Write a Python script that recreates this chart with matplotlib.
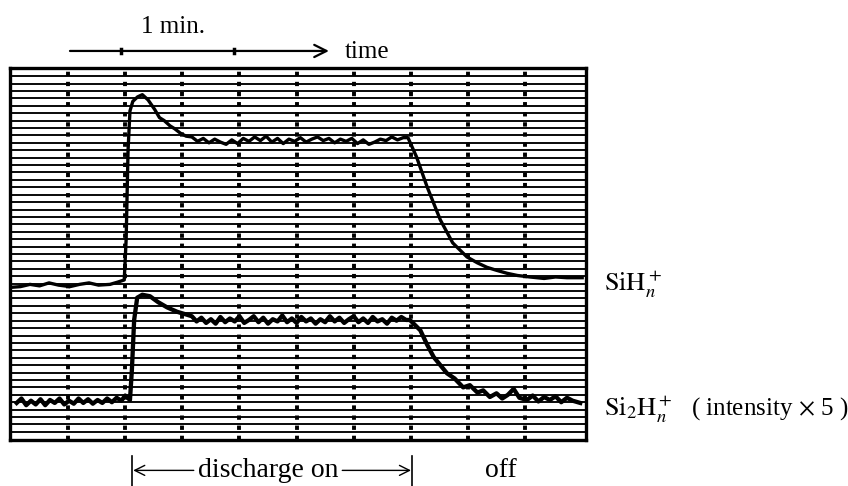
import matplotlib.pyplot as plt
import numpy as np

plt.rcParams['font.family'] = ['Liberation Serif', 'DejaVu Serif']
plt.rcParams['mathtext.fontset'] = 'stix'

# time in seconds (10 chart divisions = 300 s), intensity in chart divisions (0-50)
sih_t = [0, 5, 10, 15, 20, 25, 31, 36, 41, 46, 52, 56, 59.5,
         60.5, 61, 61.5, 62.5, 64, 66.5, 69, 72, 75.5, 78, 80.5, 83.5, 86, 89, 92,
         95, 98, 101, 104, 107, 110, 113, 116, 119, 122, 125, 128, 131, 134, 137,
         140, 143, 146, 149, 152, 155, 158, 161, 164, 167, 170, 173, 176, 179, 182,
         185, 188, 191, 194, 197, 200, 203, 206, 208.5,
         213, 218.5, 225.5, 232, 239.5, 245, 250, 255, 260.5, 266, 272.5, 280, 286, 292, 300]
sih_y = [20.5, 20.6, 20.9, 20.7, 21.1, 20.8, 20.6, 20.9, 21.1, 20.8, 20.9, 21.2, 21.5,
         27.0, 33.0, 39.0, 44.3, 45.6, 46.2, 46.5, 45.8, 44.5, 43.4, 43.0, 42.3, 41.9, 41.3, 40.9,
         40.8, 40.2, 40.6, 40.0, 40.5, 40.1, 39.8, 40.4, 39.9, 40.6, 40.2, 40.8, 40.3, 40.9, 40.1,
         40.6, 39.9, 40.5, 40.2, 40.7, 40.1, 40.5, 40.8, 40.3, 40.6, 40.0, 40.5, 40.2, 40.6, 39.9,
         40.4, 39.8, 40.1, 40.5, 40.3, 40.8, 40.4, 40.7, 40.7,
         38.1, 34.1, 29.6, 26.5, 24.6, 23.8, 23.2, 22.8, 22.4, 22.1, 21.9, 21.7, 21.9, 21.8, 21.8]

si2h_t = [3, 5.5, 8, 10.5, 13, 15.5, 18, 20.5, 23, 25.5, 28, 30.5, 33, 35.5, 38, 40.5,
          43, 45.5, 48, 50.5, 53, 55.5, 58, 60, 62.5,
          63.5, 64.7, 66.3, 69, 73, 77.3, 82, 87.3, 92.5,
          95, 97.5, 100, 102.5, 105, 107.5, 110, 112.5, 115, 117.5, 120, 122.5, 125,
          127.5, 130, 132.5, 135, 137.5, 140, 142.5, 145, 147.5, 150, 152.5, 155,
          157.5, 160, 162.5, 165, 167.5, 170, 172.5, 175, 177.5, 180, 182.5, 185,
          187.5, 190, 192.5, 195, 197.5, 200, 202.5, 205, 207.5, 209.5,
          215, 218.5, 222, 225.5, 229, 233, 237.5, 241, 245, 248, 251.5, 255, 258, 261,
          264, 267, 271, 274, 277, 280, 283, 286, 289, 292, 295, 299]
si2h_y = [4.9, 5.5, 4.6, 5.2, 4.7, 5.4, 4.6, 5.3, 4.9, 5.5, 4.7, 5.2, 4.8, 5.5, 4.9, 5.4,
          4.8, 5.3, 4.9, 5.5, 5.0, 5.6, 5.2, 5.9, 5.3,
          9.3, 16.1, 19.1, 19.5, 19.3, 18.5, 17.8, 17.2, 16.8,
          16.6, 15.9, 16.4, 15.7, 16.2, 15.6, 16.5, 15.8, 16.3, 15.9, 16.6, 15.7, 16.1,
          16.6, 15.8, 16.4, 15.6, 16.2, 15.9, 16.7, 15.8, 16.3, 15.7, 16.5, 15.9,
          16.3, 15.6, 16.2, 15.8, 16.6, 15.9, 16.4, 15.7, 16.2, 16.6, 15.8, 16.3,
          15.7, 16.5, 15.9, 16.2, 15.6, 16.4, 16.0, 16.5, 16.1, 16.1,
          14.7, 12.8, 11.1, 10.0, 8.9, 8.2, 7.0, 7.3, 6.3, 6.6, 5.7, 6.2, 5.5, 6.0,
          6.8, 5.6, 5.3, 5.9, 5.1, 5.7, 5.3, 5.8, 5.0, 5.6, 5.2, 4.9]

vlines = [30, 60, 90, 120, 150, 180, 210, 240, 270]
hlines = np.arange(1, 50)

fig = plt.figure(figsize=(8.48, 4.86), dpi=100)
ax = fig.add_axes([10 / 848, 46 / 486, 576 / 848, 372 / 486])
ax.set_xlim(-0.5, 302)
ax.set_ylim(-0.1, 50.1)

# chart paper
for h in hlines:
    ax.axhline(h, color='black', lw=1.35, zorder=1)
for v in vlines:
    ax.axvline(v, color='black', lw=2.8, ls=(0, (1.1, 1.5)), zorder=1)

# traces
ax.plot(sih_t, sih_y, color='black', lw=2.4, zorder=3, solid_joinstyle='round')
ax.plot(si2h_t, si2h_y, color='black', lw=3.1, zorder=3, solid_joinstyle='round')

ax.set_xticks([])
ax.set_yticks([])
for s in ax.spines.values():
    s.set_linewidth(2.4)

# time scale arrow on top
ax.annotate('', xy=(167, 52.4), xytext=(31, 52.4), xycoords='data',
            arrowprops=dict(arrowstyle='->', lw=1.6, color='black',
                            mutation_scale=22, shrinkA=0, shrinkB=0),
            annotation_clip=False)
for tk in [58, 117]:
    ax.plot([tk, tk], [52.1, 52.7], color='black', lw=2.5, clip_on=False)
ax.text(85, 55.6, '1 min.', ha='center', va='center', fontsize=18)
ax.text(175.5, 52.2, 'time', ha='left', va='center', fontsize=18)

# discharge on / off
ax.plot([63.6, 63.6], [-2.2, -6.4], color='black', lw=1.2, clip_on=False)
ax.plot([210.7, 210.7], [-2.2, -6.4], color='black', lw=1.2, clip_on=False)
ax.annotate('', xy=(64.2, -4.2), xytext=(96, -4.2),
            arrowprops=dict(arrowstyle='->', lw=1.0, color='black',
                            mutation_scale=18, shrinkA=0, shrinkB=0),
            annotation_clip=False)
ax.annotate('', xy=(210.1, -4.2), xytext=(174, -4.2),
            arrowprops=dict(arrowstyle='->', lw=1.0, color='black',
                            mutation_scale=18, shrinkA=0, shrinkB=0),
            annotation_clip=False)
ax.text(135, -4.2, 'discharge on', ha='center', va='center', fontsize=20)
ax.text(257.5, -4.2, 'off', ha='center', va='center', fontsize=20)

# trace labels
ax.text(311.5, 20.9, r'$\mathrm{SiH}_n^+$', ha='left', va='center', fontsize=19)
ax.text(311.5, 4.0, r'$\mathrm{Si_2H}_n^+$', ha='left', va='center', fontsize=19)
ax.text(357, 4.2, r'( intensity$\,\times\,$5 )', ha='left', va='center', fontsize=18)

fig.savefig('out.png', dpi=100)
